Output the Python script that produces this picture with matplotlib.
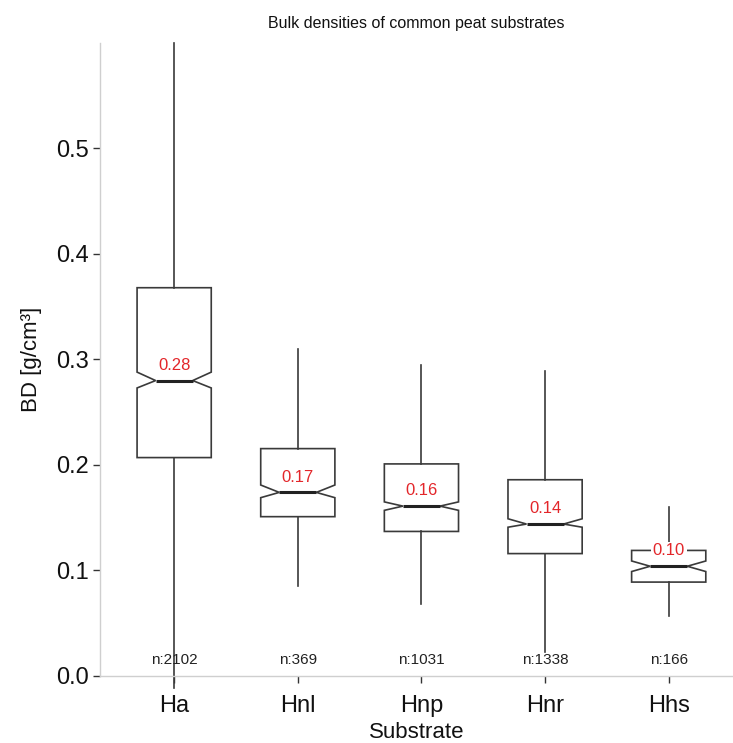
import matplotlib
matplotlib.use("Agg")
import matplotlib.pyplot as plt

plt.rcParams['font.family'] = ['Liberation Sans', 'DejaVu Sans']

# Peat substrate categories and box statistics (g/cm³)
substrates = ["Ha", "Hnl", "Hnp", "Hnr", "Hhs"]
medians = [0.280, 0.174, 0.161, 0.144, 0.104]
q1 = [0.207, 0.151, 0.137, 0.116, 0.089]
q3 = [0.368, 0.2155, 0.201, 0.186, 0.119]
whisker_low = [-0.011, 0.085, 0.068, 0.023, 0.057]
whisker_high = [0.600, 0.310, 0.2945, 0.289, 0.160]
notch_low = [0.273, 0.169, 0.157, 0.141, 0.099]
notch_high = [0.288, 0.181, 0.165, 0.149, 0.109]
counts = [2102, 369, 1031, 1338, 166]

stats = []
for i, name in enumerate(substrates):
    stats.append(dict(label=name, med=medians[i], q1=q1[i], q3=q3[i],
                      whislo=whisker_low[i], whishi=whisker_high[i],
                      cilo=notch_low[i], cihi=notch_high[i], fliers=[]))

fig = plt.figure(figsize=(7.33, 7.43), dpi=100)
ax = fig.add_axes([0.1364, 0.0902, 0.8636, 0.852])

positions = list(range(1, len(substrates) + 1))
edge = "#3a3a3a"
ax.bxp(stats, positions=positions, widths=0.6, shownotches=True,
       showcaps=False, showfliers=False, patch_artist=True,
       boxprops=dict(facecolor="white", edgecolor=edge, linewidth=1.2),
       whiskerprops=dict(color=edge, linewidth=1.2, clip_on=False),
       medianprops=dict(color="#222222", linewidth=2.2))

# Median value labels and sample sizes
for x, m, n in zip(positions, medians, counts):
    ax.text(x, m + 0.0145, f"{m:.2f}", ha="center", va="center",
            color="#e3262a", fontsize=12, zorder=5,
            bbox=dict(facecolor="white", edgecolor="none", pad=1.2))
    ax.text(x, 0.0155, f"n:{n}", ha="center", va="center",
            color="#222222", fontsize=11, zorder=5)

ax.set_xlim(0.4, 5.52)
ax.set_ylim(0, 0.6)
ax.set_yticks([0.0, 0.1, 0.2, 0.3, 0.4, 0.5])
ax.set_yticklabels(["0.0", "0.1", "0.2", "0.3", "0.4", "0.5"])
ax.set_xticks(positions)
ax.set_xticklabels(substrates)

for side in ("top", "right"):
    ax.spines[side].set_visible(False)
for side in ("left", "bottom"):
    ax.spines[side].set_color("#cfcfcf")
    ax.spines[side].set_linewidth(1.0)

ax.tick_params(axis="both", colors="#333333", length=5, width=1.0,
               labelsize=17, labelcolor="#111111")
ax.tick_params(axis="x", pad=9)
ax.tick_params(axis="y", pad=3)

ax.set_xlabel("Substrate", fontsize=16, color="#111111", labelpad=3)
ax.set_ylabel("BD [g/cm³]", fontsize=16, color="#111111", labelpad=10)
ax.set_title("Bulk densities of common peat substrates", fontsize=11.5,
             color="#111111", pad=11)

fig.savefig("out.png", dpi=100, facecolor="white")
